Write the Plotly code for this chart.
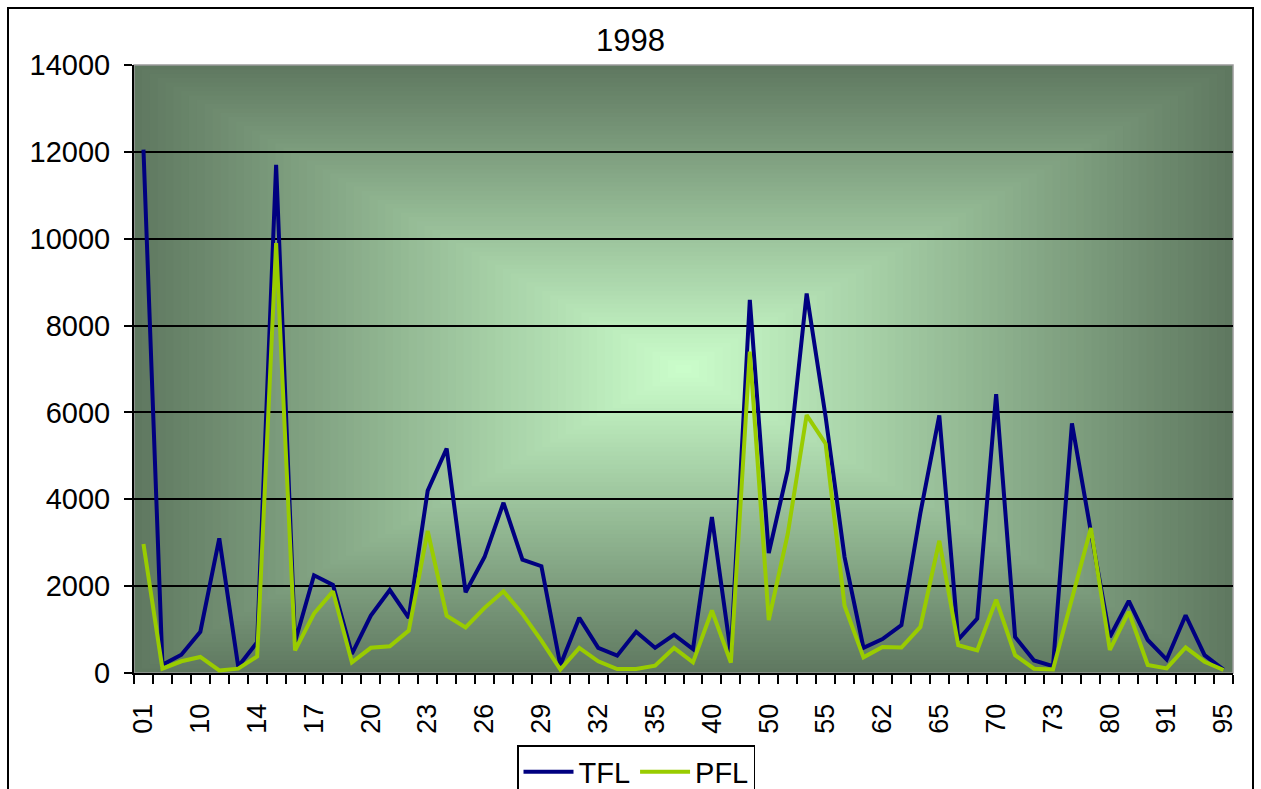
import plotly.graph_objects as go

# Department codes along the category axis
codes = ["01", "05", "06", "10", "12", "13", "14", "15", "16", "17",
         "18", "19", "20", "21", "22", "23", "24", "25", "26", "27",
         "28", "29", "30", "31", "32", "33", "34", "35", "37", "38",
         "40", "44", "49", "50", "51", "54", "55", "56", "59", "62",
         "63", "64", "65", "67", "69", "70", "71", "72", "73", "74",
         "76", "80", "83", "86", "91", "92", "94", "95"]

tfl = [12050, 190, 420, 950, 3100, 150, 710, 11700, 720, 2250,
       2030, 440, 1320, 1910, 1270, 4200, 5170, 1860, 2670, 3920,
       2610, 2460, 180, 1270, 580, 400, 950, 580, 880, 550,
       3590, 450, 8590, 2760, 4670, 8740, 5900, 2670, 580, 780,
       1100, 3680, 5930, 770, 1250, 6420, 830, 290, 160, 5750,
       3250, 830, 1660, 760, 310, 1330, 410, 80]

pfl = [2970, 100, 270, 370, 60, 100, 380, 9900, 520, 1370,
       1880, 245, 580, 615, 975, 3270, 1320, 1050, 1500, 1880,
       1360, 745, 80, 577, 270, 90, 90, 170, 577, 246,
       1440, 240, 7400, 1220, 3200, 5940, 5280, 1550, 360, 600,
       585, 1060, 3045, 640, 520, 1690, 410, 100, 80, 1750,
       3340, 530, 1410, 185, 107, 590, 260, 70]

# Labels shown on every third category
label_idx = list(range(0, len(codes), 3))
label_text = [codes[i] for i in label_idx]

x = list(range(len(codes)))

fig = go.Figure()
fig.add_trace(go.Scatter(x=x, y=tfl, mode="lines", name="TFL",
                         line=dict(color="#000080", width=4)))
fig.add_trace(go.Scatter(x=x, y=pfl, mode="lines", name="PFL",
                         line=dict(color="#99CC00", width=4)))

# Rectangular "from centre" gradient fill for the plot area
center = (204, 255, 204)
edge = (95, 120, 96)
shapes = []
steps = 70
for k in range(steps, 0, -1):
    t = k / steps
    c = tuple(round(center[j] + (edge[j] - center[j]) * t) for j in range(3))
    shapes.append(dict(type="rect", xref="x domain", yref="y domain",
                       x0=0.5 - 0.5 * t, x1=0.5 + 0.5 * t,
                       y0=0.5 - 0.5 * t, y1=0.5 + 0.5 * t,
                       fillcolor="rgb(%d,%d,%d)" % c, line=dict(width=0),
                       layer="below"))

# Thin grey border around the plot area
shapes.append(dict(type="rect", xref="x domain", yref="y domain",
                   x0=0, x1=1, y0=0, y1=1,
                   line=dict(color="#9a9a9a", width=1.5), layer="below"))

# Outer chart frame
L, R, T, B = 134, 1233, 65, 673
pw, ph = R - L, B - T
shapes.append(dict(type="rect", xref="paper", yref="paper",
                   x0=(8 - L) / pw, x1=(1253 - L) / pw,
                   y0=(B - 805) / ph, y1=(B - 8) / ph,
                   line=dict(color="black", width=2),
                   layer="above"))

fig.update_layout(
    width=1261, height=789,
    margin=dict(l=L, r=1261 - R, t=T, b=789 - B, autoexpand=False),
    paper_bgcolor="white",
    plot_bgcolor="rgb(95,120,96)",
    font=dict(family="Liberation Sans, Arial, sans-serif", color="black"),
    title=dict(text="1998", x=0.5, xanchor="center",
               y=1 - 40 / 789, yanchor="middle",
               font=dict(size=31, color="black")),
    shapes=shapes,
    showlegend=True,
    legend=dict(orientation="h", x=(636 - L) / pw, xanchor="center",
                y=(B - 745) / ph, yanchor="top",
                bgcolor="white", bordercolor="black", borderwidth=1.5,
                font=dict(size=29, color="black"),
                itemwidth=50, tracegroupgap=0),
)

fig.update_xaxes(
    range=[-0.5, len(codes) - 0.5],
    tickmode="array", tickvals=label_idx, ticktext=label_text,
    tickangle=-90, tickfont=dict(size=27),
    ticks="outside", ticklen=18, tickcolor="rgba(0,0,0,0)",
    minor=dict(tickmode="linear", tick0=-0.5, dtick=1, ticks="outside",
               ticklen=9, tickcolor="black", tickwidth=2, showgrid=False),
    showgrid=False, zeroline=False,
    showline=True, linecolor="black", linewidth=2,
)

fig.update_yaxes(
    range=[0, 14000], dtick=2000, tick0=0, tickformat="d",
    tickfont=dict(size=29),
    ticks="outside", ticklen=8, tickcolor="black", tickwidth=2,
    ticklabelstandoff=8,
    showgrid=True, gridcolor="black", gridwidth=2,
    zeroline=False,
    showline=True, linecolor="black", linewidth=2,
)

fig.write_html("out.html")
